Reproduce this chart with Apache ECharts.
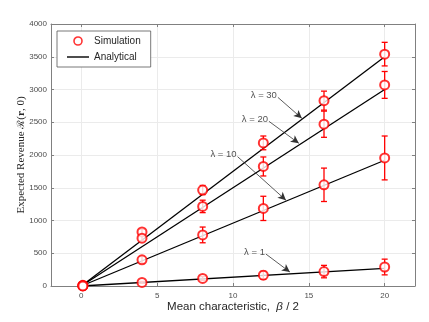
<!DOCTYPE html>
<html>
<head>
<meta charset="utf-8">
<script src="https://cdn.jsdelivr.net/npm/echarts@6/dist/echarts.min.js"></script>
<style>
  html, body { margin: 0; padding: 0; background: #fff; }
  #chart { width: 429px; height: 322px; }
</style>
</head>
<body>
<div id="chart"></div>
<script>
// x positions of the simulated points
var simX = [0.1, 4, 8, 12, 16, 20];
// simulated revenue (mean) and error bar half-width, one pair per lambda
var sim30 = [10, 825, 1465, 2185, 2830, 3540];
var err30 = [15, 40, 70, 105, 145, 180];
var sim20 = [5, 730, 1215, 1825, 2470, 3070];
var err20 = [10, 40, 95, 145, 200, 205];
var sim10 = [3, 400, 780, 1185, 1545, 1955];
var err10 = [5, 50, 120, 185, 255, 335];
var sim1 = [1, 55, 115, 165, 220, 290];
var err1 = [2, 15, 30, 60, 95, 120];
// analytical lines
var lineX = [0, 20];
var ana30 = [0, 3500];
var ana20 = [0, 3000];
var ana10 = [0, 1920];
var ana1 = [0, 270];
// arrow annotations
var annoText = ['λ = 30', 'λ = 20', 'λ = 10', 'λ = 1'];
var annoFrom = [[12.96, 2880], [12.37, 2514], [10.3, 1975], [12.17, 488]];
var annoTo = [[14.54, 2560], [14.34, 2179], [13.49, 1310], [13.75, 213]];
var xTicks = [0, 5, 10, 15, 20];

var RED = '#ff0000';
var AXIS = '#808080';
var TXT = '#4d4d4d';

function pairs(xs, ys) {
    var out = [];
    for (var i = 0; i < xs.length; i++) out.push([xs[i], ys[i]]);
    return out;
}
function errData(xs, ys, es) {
    var out = [];
    for (var i = 0; i < xs.length; i++) out.push([xs[i], ys[i] - es[i], ys[i] + es[i]]);
    return out;
}
function renderErr(params, api) {
    var lo = api.coord([api.value(0), api.value(1)]);
    var hi = api.coord([api.value(0), api.value(2)]);
    var w = 3;
    var st = { stroke: RED, lineWidth: 1.3 };
    return {
        type: 'group',
        children: [
            { type: 'line', shape: { x1: lo[0], y1: lo[1], x2: hi[0], y2: hi[1] }, style: st },
            { type: 'line', shape: { x1: lo[0] - w, y1: lo[1], x2: lo[0] + w, y2: lo[1] }, style: st },
            { type: 'line', shape: { x1: hi[0] - w, y1: hi[1], x2: hi[0] + w, y2: hi[1] }, style: st }
        ]
    };
}

var series = [];
var sims = [[sim30, err30], [sim20, err20], [sim10, err10], [sim1, err1]];
var anas = [ana30, ana20, ana10, ana1];
anas.forEach(function (a) {
    series.push({
        name: 'Analytical', type: 'line', data: pairs(lineX, a),
        symbol: 'none', lineStyle: { color: '#000', width: 1.3 }, itemStyle: { color: '#000' },
        z: 3, silent: true
    });
});
sims.forEach(function (s) {
    series.push({
        type: 'custom', renderItem: renderErr, data: errData(simX, s[0], s[1]),
        encode: { x: 0, y: [1, 2] }, z: 4, silent: true
    });
    series.push({
        name: 'Simulation', type: 'scatter', data: pairs(simX, s[0]),
        symbol: 'emptyCircle', symbolSize: 9,
        itemStyle: { color: RED, borderColor: RED, borderWidth: 1.3 }, z: 5
    });
});
// arrows
var arrowData = [];
for (var i = 0; i < annoText.length; i++) {
    arrowData.push([{ coord: annoFrom[i] }, { coord: annoTo[i] }]);
}
series.push({
    type: 'line', data: [], silent: true,
    markLine: {
        silent: true, symbol: ['none', 'arrow'], symbolSize: [6, 8],
        lineStyle: { color: '#333', width: 0.8, type: 'solid' },
        label: { show: false },
        data: arrowData
    }
});
series.push({
    type: 'scatter', data: annoFrom.map(function (p, i) { return { value: p, name: annoText[i] }; }),
    symbolSize: 0, silent: true,
    label: {
        show: true, position: 'left', distance: 1, offset: [0, -2],
        formatter: function (p) { return p.name; },
        fontFamily: 'Liberation Sans', fontSize: 9.5, color: '#262626'
    }
});

var chart = echarts.init(document.getElementById('chart'));
chart.setOption({
    animation: false,
    grid: { left: 51, right: 14, top: 24, bottom: 36 },
    legend: {
        data: [
            { name: 'Simulation', icon: 'circle', itemStyle: { color: '#fff', borderColor: RED, borderWidth: 1.6 } },
            { name: 'Analytical', icon: 'path://M0,0 L22,0 L22,1.4 L0,1.4 Z', itemStyle: { color: '#000' } }
        ],
        orient: 'vertical', left: 57, top: 31,
        itemWidth: 22, itemHeight: 8, itemGap: 6,
        padding: [5, 10, 5, 10],
        borderColor: '#555', borderWidth: 0.8, backgroundColor: '#fff',
        textStyle: { fontFamily: 'Liberation Sans', fontSize: 10, color: '#262626' }
    },
    xAxis: [{
        type: 'value', min: -2, max: 22,
        name: '{a|Mean characteristic,  }{b|β}{a| / 2}',
        nameLocation: 'middle', nameGap: 15, nameMoveOverlap: false,
        nameTextStyle: {
            rich: {
                a: { fontFamily: 'Liberation Sans', fontSize: 11.5, color: '#262626' },
                b: { fontFamily: 'Liberation Sans', fontSize: 11.5, fontStyle: 'italic', color: '#262626' }
            }
        },
        axisLine: { onZero: false, lineStyle: { color: AXIS, width: 1 } },
        axisTick: { inside: true, length: 3, customValues: xTicks, lineStyle: { color: AXIS } },
        axisLabel: { customValues: xTicks, fontFamily: 'Liberation Sans', fontSize: 8, color: TXT, margin: 6 },
        splitLine: { show: true, lineStyle: { color: '#ebebeb', width: 1 } }
    }, {
        type: 'value', min: -2, max: 22, position: 'top',
        axisLine: { onZero: false, lineStyle: { color: AXIS } },
        axisTick: { inside: true, length: 3, customValues: xTicks, lineStyle: { color: AXIS } },
        axisLabel: { show: false }, splitLine: { show: false }
    }],
    yAxis: [{
        type: 'value', min: 0, max: 4000, interval: 500,
        name: '{a|Expected Revenue }{c|ℛ}{a|(}{b|r}{a|, 0)}',
        nameLocation: 'middle', nameGap: 24, nameMoveOverlap: false,
        nameTextStyle: {
            rich: {
                a: { fontFamily: 'Liberation Serif', fontSize: 11, color: '#262626' },
                b: { fontFamily: 'Liberation Serif', fontSize: 11, fontWeight: 'bold', color: '#262626' },
                c: { fontFamily: 'DejaVu Serif', fontSize: 10, color: '#262626' }
            }
        },
        axisLine: { show: true, onZero: false, lineStyle: { color: AXIS, width: 1 } },
        axisTick: { show: true, inside: true, length: 3, lineStyle: { color: AXIS } },
        axisLabel: { formatter: function (v) { return String(v); }, fontFamily: 'Liberation Sans', fontSize: 8, color: TXT, margin: 4 },
        splitLine: { show: true, lineStyle: { color: '#ebebeb', width: 1 } }
    }, {
        type: 'value', min: 0, max: 4000, interval: 500, position: 'right',
        axisLine: { show: true, onZero: false, lineStyle: { color: AXIS } },
        axisTick: { show: true, inside: true, length: 3, lineStyle: { color: AXIS } },
        axisLabel: { show: false }, splitLine: { show: false }
    }],
    series: series
});
</script>
</body>
</html>
